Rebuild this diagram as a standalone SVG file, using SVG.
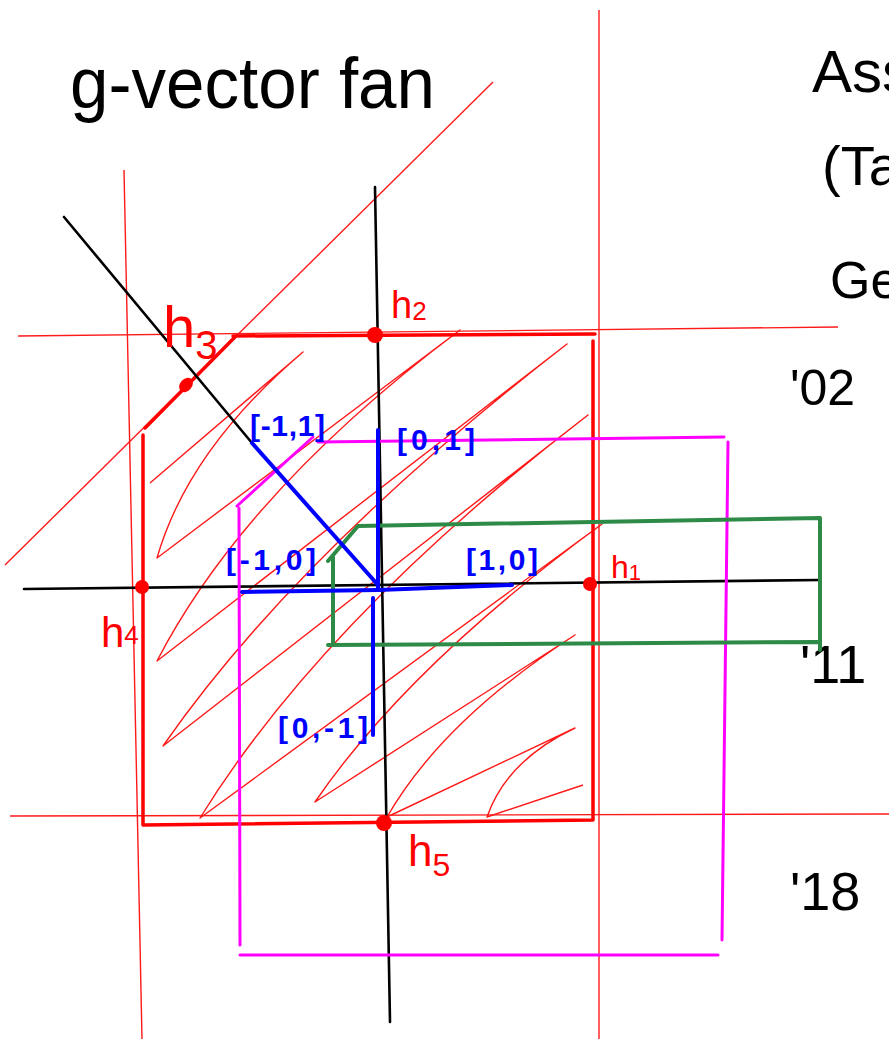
<svg xmlns="http://www.w3.org/2000/svg" width="889" height="1039" viewBox="0 0 889 1039">
<style>
.thin{stroke:#ff1a1a;stroke-width:1.4;fill:none}
.thick{stroke:#ff0000;stroke-width:3.5;fill:none;stroke-linecap:round}
.blk{stroke:#000;stroke-width:2.6;fill:none;stroke-linecap:round}
.blu{stroke:#0000ff;stroke-width:4;fill:none;stroke-linecap:round}
.mag{stroke:#ff00ff;stroke-width:3;fill:none;stroke-linecap:round}
.grn{stroke:#2e8b47;stroke-width:4;fill:none;stroke-linecap:round;stroke-linejoin:round}
.hand{font-family:"Liberation Sans",Arial,sans-serif;fill:#000}
.rl{font-family:"Liberation Sans",Arial,sans-serif;fill:#ff0000}
.bl{font-family:"Liberation Sans",Arial,sans-serif;fill:#0000ff;font-weight:bold;font-size:30px}
.dot{fill:#ff0000}
</style>
<rect width="889" height="1039" fill="#fff"/>
<g id="titles">
<text class="hand" x="70" y="108" font-size="72" textLength="365" lengthAdjust="spacingAndGlyphs">g-vector fan</text>
<text class="hand" x="812" y="92" font-size="60">Ass</text>
<text class="hand" x="822" y="185" font-size="56">(Ta</text>
<text class="hand" x="830" y="298" font-size="52">Ge</text>
<text class="hand" x="790" y="405" font-size="50">'02</text>
<text class="hand" x="800" y="683" font-size="54">'11</text>
<text class="hand" x="790" y="910" font-size="54">'18</text>
</g>
<g id="hatching">
<path class="thin" stroke-linejoin="round" d="M150,483 L303,352 Q188,450 157,558 L460,330 Q245,491 157,661 L567,344 Q297,553 163,746 L588,415 Q323,619 200,818 L602,524 Q408,666 315,802 L575,635 Q443,720 387,817 L575,728 Q507,760 487,817 L583,785"/>
</g>
<g id="red-lines">
<line class="thin" x1="124" y1="170" x2="142" y2="1039"/>
<line class="thin" x1="599" y1="10" x2="599" y2="1039"/>
<line class="thin" x1="18" y1="336" x2="838" y2="327"/>
<line class="thin" x1="10" y1="816" x2="889" y2="814"/>
<line class="thin" x1="5" y1="565" x2="493" y2="82"/>
<path class="thick" d="M233,336 L595,334 M593,341 L593,820 M593,820 L143,825 M143,825 L143,435 M145,428 L235,337"/>
</g>
<g id="axes">
<line class="blk" x1="24" y1="589" x2="820" y2="580"/>
<line class="blk" x1="375" y1="187" x2="390" y2="1022"/>
<line class="blk" x1="64" y1="217" x2="252" y2="443"/>
</g>
<g id="magenta-box">
<path class="mag" d="M237,506 L313,437 M318,442 L724,437 M728,442 L722,940 M240,955 L718,955 M239,508 L240,945"/>
</g>
<g id="green-box">
<path class="grn" d="M328,561 L358,526 L820,518 M820,518 L820,650 M328,645 L818,642 M333,557 L333,645"/>
</g>
<g id="rays">
<line class="blu" x1="252" y1="443" x2="378" y2="585"/>
<line class="blu" x1="378" y1="430" x2="378" y2="590"/>
<line class="blu" x1="378" y1="590" x2="512" y2="585"/>
<line class="blu" x1="242" y1="592" x2="378" y2="590"/>
<line class="blu" x1="373" y1="598" x2="373" y2="735"/>
</g>
<g id="ray-labels">
<text class="bl" x="250" y="436" textLength="75" lengthAdjust="spacing">[-1,1]</text>
<text class="bl" x="397" y="450" textLength="78" lengthAdjust="spacing">[0,1]</text>
<text class="bl" x="226" y="570" textLength="90" lengthAdjust="spacing">[-1,0]</text>
<text class="bl" x="466" y="570" textLength="72" lengthAdjust="spacing">[1,0]</text>
<text class="bl" x="278" y="738" textLength="90" lengthAdjust="spacing">[0,-1]</text>
</g>
<g id="h1"><circle class="dot" cx="590" cy="584" r="7"/><text class="rl" x="611" y="578" font-size="32">h<tspan font-size="22" dy="2">1</tspan></text></g>
<g id="h2"><circle class="dot" cx="375" cy="335" r="8"/><text class="rl" x="391" y="318" font-size="38">h<tspan font-size="26" dy="2">2</tspan></text></g>
<g id="h3"><ellipse class="dot" cx="186" cy="385" rx="6" ry="8" transform="rotate(40 186 385)"/><text class="rl" x="163" y="347" font-size="58">h<tspan font-size="40" dy="12">3</tspan></text></g>
<g id="h4"><circle class="dot" cx="142" cy="587" r="7"/><text class="rl" x="101" y="647" font-size="42">h<tspan font-size="26" dy="-3">4</tspan></text></g>
<g id="h5"><circle class="dot" cx="384" cy="823" r="8"/><text class="rl" x="408" y="866" font-size="44">h<tspan font-size="32" dy="10">5</tspan></text></g>
</svg>
